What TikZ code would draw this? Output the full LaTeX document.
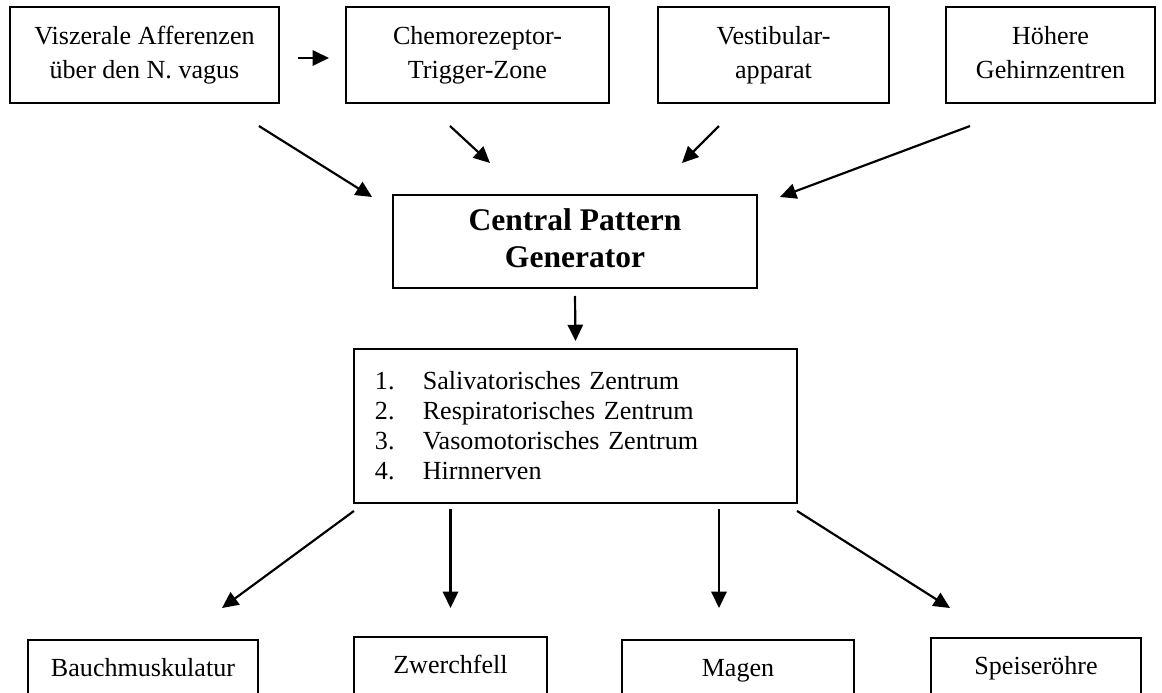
\documentclass[tikz,border=0pt]{standalone}
\usepackage{fontspec}
\setmainfont{Liberation Serif}
\usetikzlibrary{arrows.meta}
\tikzset{
  box/.style={draw, line width=0.9pt, inner sep=0pt, align=center, font=\fontsize{12}{15.6}\selectfont},
  arr/.style={line width=1pt, -{Triangle[length=7.5pt,width=7pt]}}
}

\begin{document}
\begin{tikzpicture}[x=0.46pt, y=-0.46pt]
    \useasboundingbox (0,0) rectangle (1162,693);
    \clip (0,0) rectangle (1162,693);
    % Eingaenge
    \node[box, minimum width=123.7pt, minimum height=44.2pt] (vis) at (144.5,55) {\strut Viszerale Afferenzen\\\strut über den N. vagus};
    \node[box, minimum width=121pt, minimum height=44.2pt] (ctz) at (477.5,55) {\strut Chemorezeptor-\\\strut Trigger-Zone};
    \node[box, minimum width=106.3pt, minimum height=44.2pt] (vest) at (773.5,55) {\strut Vestibular-\\\strut apparat};
    \node[box, minimum width=96.1pt, minimum height=44.2pt] (hoeh) at (1050.5,55) {\strut Höhere\\\strut Gehirnzentren};
    % Zentrum
    \node[box, minimum width=167.4pt, minimum height=42.8pt, font=\fontsize{14.5}{17}\selectfont\bfseries] (cpg) at (575,241.5) {\strut Central Pattern\\\strut Generator};
    \node[box, minimum width=203.8pt, minimum height=70.8pt, text width=184.5pt, inner xsep=9.66pt, align=left, font=\fontsize{12}{13.8}\selectfont] (list) at (575.5,426)
        {\makebox[22pt][l]{1.}Salivatorisches Zentrum\\
         \makebox[22pt][l]{2.}Respiratorisches Zentrum\\
         \makebox[22pt][l]{3.}Vasomotorisches Zentrum\\
         \makebox[22pt][l]{4.}Hirnnerven};
    % Erfolgsorgane
    \node[box, minimum width=105.8pt, minimum height=27.6pt, text height=8.5pt, text depth=2.5pt] (bauch) at (143,670) {Bauchmuskulatur};
    \node[box, minimum width=88.8pt, minimum height=27.6pt, text height=8.5pt, text depth=2.5pt] (zwerch) at (450.5,667) {Zwerchfell};
    \node[box, minimum width=106.7pt, minimum height=27.6pt, text height=8.5pt, text depth=2.5pt] (magen) at (738,670) {Magen};
    \node[box, minimum width=96.6pt, minimum height=27.6pt, text height=8.5pt, text depth=2.5pt] (speis) at (1036,668) {Speiseröhre};
    % Pfeile
    \draw[arr] ([shift={(18,3)}]vis.east) -- ([shift={(-16,3)}]ctz.west);
    \draw[arr] ([shift={(-21,22)}]vis.south east) -- ([shift={(-20,3)}]cpg.north west);
    \draw[arr] ([shift={(-27.5,22)}]ctz.south) -- ([shift={(-85,-31)}]cpg.north);
    \draw[arr] ([shift={(-54.5,22)}]vest.south) -- ([shift={(107,-31)}]cpg.north);
    \draw[arr] ([shift={(-80.5,22)}]hoeh.south) -- ([shift={(22,3)}]cpg.north east);
    \draw[arr] ([shift={(0,7)}]cpg.south) -- ([shift={(0,-7)}]list.north);
    \draw[arr] ([shift={(1,7)}]list.south west) -- ([shift={(79,-31)}]bauch.north);
    \draw[arr] ([shift={(0,-127)}]zwerch.north) -- ([shift={(0,-28)}]zwerch.north);
    \draw[arr] ([shift={(-19,-130)}]magen.north) -- ([shift={(-19,-31)}]magen.north);
    \draw[arr] ([shift={(-1,7)}]list.south east) -- ([shift={(-86,-29)}]speis.north);
\end{tikzpicture}
\end{document}
